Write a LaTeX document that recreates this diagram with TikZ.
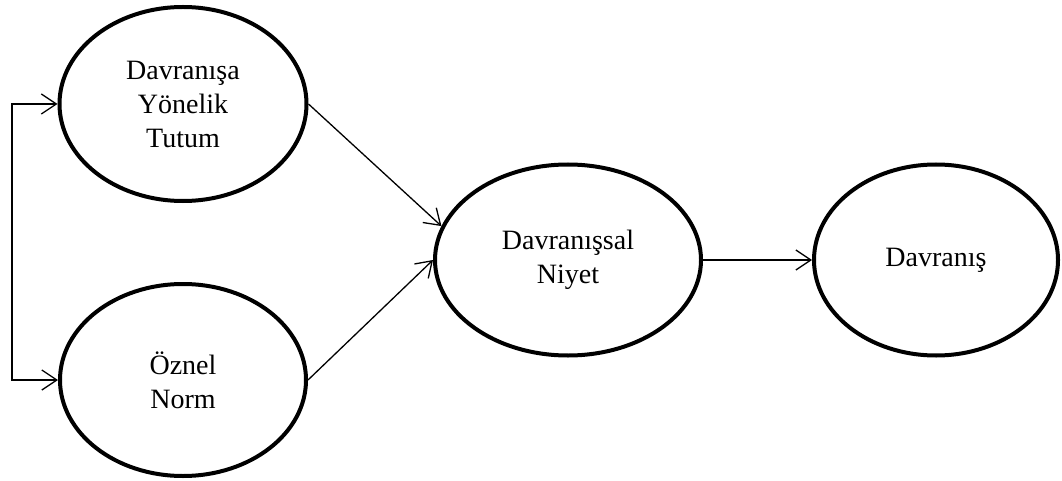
\documentclass[tikz,border=0pt]{standalone}
\usepackage{fontspec}
\setmainfont{Liberation Serif}
\usetikzlibrary{shapes.geometric,arrows.meta}
\begin{document}
\begin{tikzpicture}[x=1pt,y=-1pt,
  construct/.style={draw, ellipse, line width=4pt, inner sep=0pt,
    align=center, font=\fontsize{28}{34}\selectfont},
  link/.style={line width=1.3pt, -{Straight Barb[length=15pt,width=20pt,line width=1.3pt]}}]
  \useasboundingbox (0,0) rectangle (1062,481);
  % constructs
  \node[construct, minimum width=247pt, minimum height=194pt] (att) at (183,104)
    {Davranışa\\Yönelik\\Tutum};
  \node[construct, minimum width=246pt, minimum height=192pt] (norm) at (183,380)
    {Öznel\\Norm};
  \node[construct, minimum width=266pt, minimum height=191pt] (int) at (568,260)
    {Davranışsal\\Niyet};
  \node[construct, minimum width=244pt, minimum height=191pt] (beh) at (936,260)
    {Davranış};
  % correlation bracket on the left
  \coordinate (side) at (12,243);
  \draw[link, {Straight Barb[length=15pt,width=20pt,line width=1.3pt]}-{Straight Barb[length=15pt,width=20pt,line width=1.3pt]}]
    (att.west) -| (side) |- (norm.west);
  % paths to intention and behaviour
  \draw[link] (att.east) -- (int.165);
  \draw[link] (norm.east) -- (int.west);
  \draw[link] (int.east) -- (beh.west);
\end{tikzpicture}
\end{document}
